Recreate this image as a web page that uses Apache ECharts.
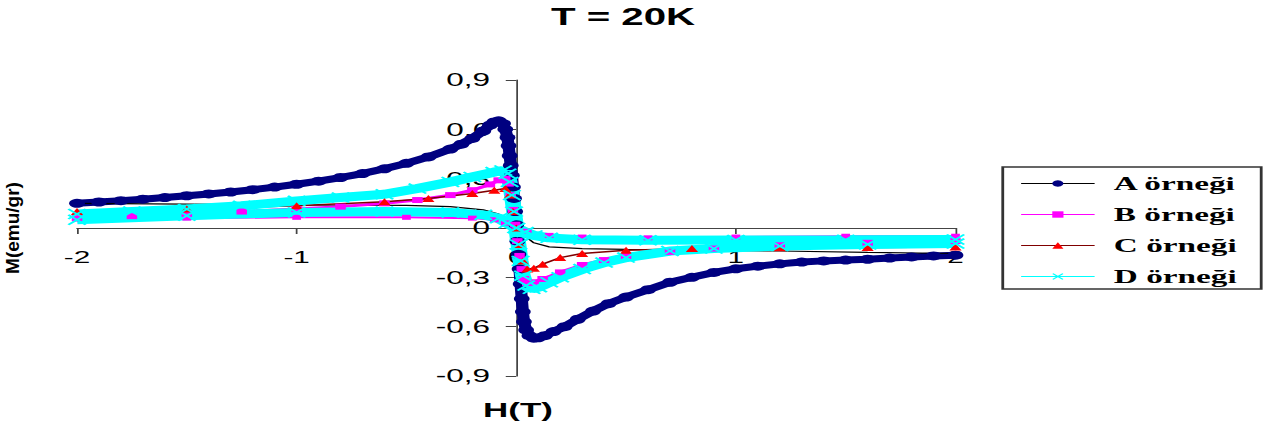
<!DOCTYPE html>
<html>
<head>
<meta charset="utf-8">
<script src="https://cdn.jsdelivr.net/npm/echarts@6/dist/echarts.min.js"></script>
<style>
  html, body { margin: 0; padding: 0; background: #fff; overflow: hidden; }
  /* the reference is stretched sideways, so draw narrow and widen */
  #myChart { width: 724px; height: 430px; transform: scaleX(1.75); transform-origin: 0 0; }
</style>
</head>
<body>
<div id="myChart"></div>
<script>
// H(T) and M(emu/gr); main branch and return branch per sample
var aH = [-2, -1.9, -1.8, -1.7, -1.6, -1.5, -1.4, -1.3, -1.2, -1.1, -1, -0.9, -0.8, -0.7, -0.6, -0.5, -0.4, -0.3, -0.25, -0.2,
          -0.15, -0.12, -0.1, -0.08, -0.06, -0.05, -0.04, -0.035, -0.03, -0.025, -0.02, -0.015, -0.01, -0.005, 0, 0.005, 0.01, 0.015, 0.02, 0.025,
          0.03, 0.035, 0.045, 0.06, 0.08, 0.1, 0.13, 0.17, 0.22, 0.28, 0.35, 0.42, 0.5, 0.6, 0.7, 0.8, 0.9, 1, 1.1, 1.2,
          1.3, 1.4, 1.5, 1.6, 1.7, 1.8, 1.9, 2];
var aM = [0.15, 0.158, 0.166, 0.175, 0.185, 0.196, 0.207, 0.219, 0.233, 0.249, 0.266, 0.285, 0.307, 0.331, 0.36, 0.393, 0.432, 0.48, 0.51, 0.545,
          0.59, 0.625, 0.645, 0.652, 0.635, 0.6, 0.55, 0.5, 0.44, 0.38, 0.32, 0.25, 0.18, 0.1, 0.02, -0.08, -0.16, -0.25, -0.34, -0.43,
          -0.51, -0.57, -0.62, -0.655, -0.67, -0.668, -0.655, -0.63, -0.6, -0.555, -0.505, -0.46, -0.42, -0.375, -0.33, -0.3, -0.27, -0.248, -0.232, -0.218,
          -0.207, -0.2, -0.195, -0.19, -0.183, -0.176, -0.17, -0.165];
var aRetH = [2, 1.6, 1.2, 0.8, 0.5, 0.3, 0.15, 0.08, 0.04, 0, -0.04, -0.08, -0.15, -0.3, -0.5, -1, -1.5, -2];
var aRetM = [-0.155, -0.148, -0.14, -0.135, -0.13, -0.125, -0.115, -0.09, -0.05, 0, 0.05, 0.085, 0.11, 0.13, 0.138, 0.14, 0.145, 0.15];

var bH = [-2, -1.75, -1.5, -1.25, -1, -0.8, -0.6, -0.45, -0.3, -0.2, -0.12, -0.08, -0.05, -0.035, -0.025, -0.015, -0.005, 0.005, 0.015, 0.025,
          0.035, 0.05, 0.08, 0.12, 0.2, 0.3, 0.4, 0.5, 0.7, 0.9, 1.2, 1.6, 2];
var bM = [0.06, 0.072, 0.085, 0.1, 0.115, 0.13, 0.15, 0.17, 0.2, 0.23, 0.265, 0.29, 0.3, 0.27, 0.2, 0.11, 0.02, -0.08, -0.17, -0.25,
          -0.31, -0.335, -0.33, -0.31, -0.27, -0.225, -0.195, -0.17, -0.145, -0.125, -0.105, -0.09, -0.08];
var bRetH = [2, 1.5, 1, 0.6, 0.3, 0.15, 0.05, 0, -0.05, -0.1, -0.2, -0.5, -1, -1.5, -2];
var bRetM = [-0.05, -0.05, -0.055, -0.06, -0.055, -0.045, -0.02, 0, 0.03, 0.05, 0.06, 0.065, 0.065, 0.06, 0.055];

var cH = [-2, -1.5, -1, -0.6, -0.4, -0.2, -0.1, -0.05, -0.03, -0.015, 0, 0.015, 0.03, 0.05, 0.08, 0.12, 0.2, 0.3, 0.5, 0.8, 1.2, 1.6, 2];
var cM = [0.1, 0.115, 0.135, 0.16, 0.18, 0.21, 0.23, 0.24, 0.2, 0.1, 0, -0.1, -0.2, -0.25, -0.245, -0.22, -0.18, -0.155, -0.135, -0.125, -0.12, -0.118, -0.115];
var cRetH = [2, 1.5, 1, 0.5, 0.2, 0.1, 0.05, 0, -0.05, -0.1, -0.2, -0.5, -1, -1.5, -2];
var cRetM = [-0.105, -0.1, -0.095, -0.09, -0.08, -0.06, -0.035, 0, 0.04, 0.07, 0.09, 0.1, 0.1, 0.1, 0.1];

var dH = [-2, -1.75, -1.5, -1.25, -1, -0.8, -0.6, -0.45, -0.3, -0.2, -0.1, -0.06, -0.04, -0.03, -0.02, -0.01, 0, 0.01, 0.02, 0.03,
          0.045, 0.07, 0.1, 0.15, 0.2, 0.3, 0.4, 0.5, 0.7, 0.9, 1.2, 1.6, 2];
var dM = [0.085, 0.1, 0.115, 0.135, 0.165, 0.185, 0.205, 0.24, 0.28, 0.31, 0.34, 0.35, 0.33, 0.28, 0.2, 0.1, 0, -0.1, -0.2, -0.29,
          -0.35, -0.37, -0.36, -0.33, -0.3, -0.25, -0.21, -0.18, -0.14, -0.125, -0.11, -0.1, -0.095];
var dRetH = [2, 1.5, 1, 0.6, 0.3, 0.15, 0.08, 0.04, 0, -0.04, -0.08, -0.15, -0.3, -0.6, -1, -1.5, -2];
var dRetM = [-0.07, -0.072, -0.073, -0.075, -0.072, -0.06, -0.045, -0.025, 0, 0.03, 0.06, 0.08, 0.095, 0.1, 0.095, 0.075, 0.05];

var names = ['A örneği', 'B örneği', 'C örneği', 'D örneği'];
var yTicks = [-0.9, 0.9, 0.3];   // min, max, step
var xTicks = [-2, 2, 1];

var crossIcon = 'path://M0,1L1,0L5,4L9,0L10,1L6,5L10,9L9,10L5,6L1,10L0,9L4,5Z';
var arial = 'Arial, "Liberation Sans", sans-serif';

function pairs(h, m) {
    var out = [];
    h.forEach(function (x, i) { out.push([x, m[i]]); });
    return out;
}

var dom = document.getElementById('myChart');
var myChart = echarts.init(dom, null, { renderer: 'svg' });

// grid is 502 x 296, axes cross in its middle
var option = {
    animation: false,
    backgroundColor: '#fff',
    grid: { left: 44, right: 178, top: 80, bottom: 54, containLabel: false, outerBoundsMode: 'none' },
    xAxis: {
        type: 'value', min: xTicks[0], max: xTicks[1], interval: xTicks[2],
        offset: -148,
        axisLine: { onZero: false, lineStyle: { color: '#444', width: 1 } },
        axisTick: { length: 6, lineStyle: { color: '#444' } },
        splitLine: { show: false },
        axisLabel: { margin: 21, fontSize: 17, color: '#000', fontFamily: arial }
    },
    yAxis: {
        type: 'value', min: yTicks[0], max: yTicks[1], interval: yTicks[2],
        offset: -251,
        axisLine: { onZero: false, lineStyle: { color: '#444', width: 1 } },
        axisTick: { length: 6, lineStyle: { color: '#444' } },
        splitLine: { show: false },
        axisLabel: {
            margin: 15, fontSize: 18, color: '#000', fontFamily: arial,
            formatter: function (v) {
                var r = Math.round(v * 10) / 10;
                return r === 0 ? '0' : String(r).replace('.', ',');
            }
        }
    },
    legend: {
        orient: 'vertical', left: 573, top: 167,
        itemWidth: 42, itemHeight: 8, itemGap: 12,
        padding: [7, 14, 3, 10],
        borderColor: '#333', borderWidth: 1.6, backgroundColor: '#fff',
        textStyle: { fontFamily: '"Liberation Serif", "Times New Roman", serif', fontWeight: 'bold', fontSize: 19, color: '#000', padding: [0, 0, 0, 6] },
        data: [
            { name: names[0], lineStyle: { color: '#000', width: 1 }, itemStyle: { color: '#000080' } },
            { name: names[1], lineStyle: { color: '#ff00ff', width: 1 }, itemStyle: { color: '#ff00ff' } },
            { name: names[2], lineStyle: { color: '#800000', width: 1 }, itemStyle: { color: '#ff0000' } },
            { name: names[3], lineStyle: { color: '#00ffff', width: 1 }, itemStyle: { color: '#00ffff' } }
        ]
    },
    graphic: [
        { type: 'text', x: 356, y: 17,
          style: { text: 'T = 20K', font: 'bold 23px ' + arial, fill: '#000', align: 'center', verticalAlign: 'middle', textAlign: 'center', textVerticalAlign: 'middle' } },
        { type: 'text', x: 296, y: 410,
          style: { text: 'H(T)', font: 'bold 20px ' + arial, fill: '#000', align: 'center', verticalAlign: 'middle', textAlign: 'center', textVerticalAlign: 'middle' } },
        { type: 'text', x: 7, y: 228, rotation: Math.PI / 2, scaleY: 0.56,
          style: { text: 'M(emu/gr)', font: 'bold 19px ' + arial, fill: '#000', align: 'center', verticalAlign: 'middle', textAlign: 'center', textVerticalAlign: 'middle' } }
    ],
    series: [
        { name: names[0], type: 'line', data: pairs(aH, aM),
          symbol: 'circle', symbolSize: 9, itemStyle: { color: '#000080' },
          lineStyle: { color: '#000080', width: 7 } },
        { name: 'A geri', type: 'line', data: pairs(aRetH, aRetM),
          symbol: 'none', lineStyle: { color: '#000', width: 1.2 } },
        { name: names[1], type: 'line', data: pairs(bH, bM),
          symbol: 'rect', symbolSize: 6, itemStyle: { color: '#ff00ff' },
          lineStyle: { color: '#ff00ff', width: 3 } },
        { name: 'B geri', type: 'line', data: pairs(bRetH, bRetM),
          symbol: 'rect', symbolSize: 5, itemStyle: { color: '#ff00ff' },
          lineStyle: { color: '#ff00ff', width: 2 } },
        { name: names[2], type: 'line', data: pairs(cH, cM),
          symbol: 'triangle', symbolSize: 7, itemStyle: { color: '#ff0000' },
          lineStyle: { color: '#800000', width: 1.5 } },
        { name: 'C geri', type: 'line', data: pairs(cRetH, cRetM),
          symbol: 'none', lineStyle: { color: '#800000', width: 1.5 } },
        { name: names[3], type: 'line', data: pairs(dH, dM),
          symbol: crossIcon, symbolSize: 11, itemStyle: { color: '#00ffff' },
          lineStyle: { color: '#00ffff', width: 9 } },
        { name: 'D geri', type: 'line', data: pairs(dRetH, dRetM),
          symbol: crossIcon, symbolSize: 11, itemStyle: { color: '#00ffff' },
          lineStyle: { color: '#00ffff', width: 9 } }
    ]
};

if (option && typeof option === 'object') {
    myChart.setOption(option, true);
}
</script>
</body>
</html>
